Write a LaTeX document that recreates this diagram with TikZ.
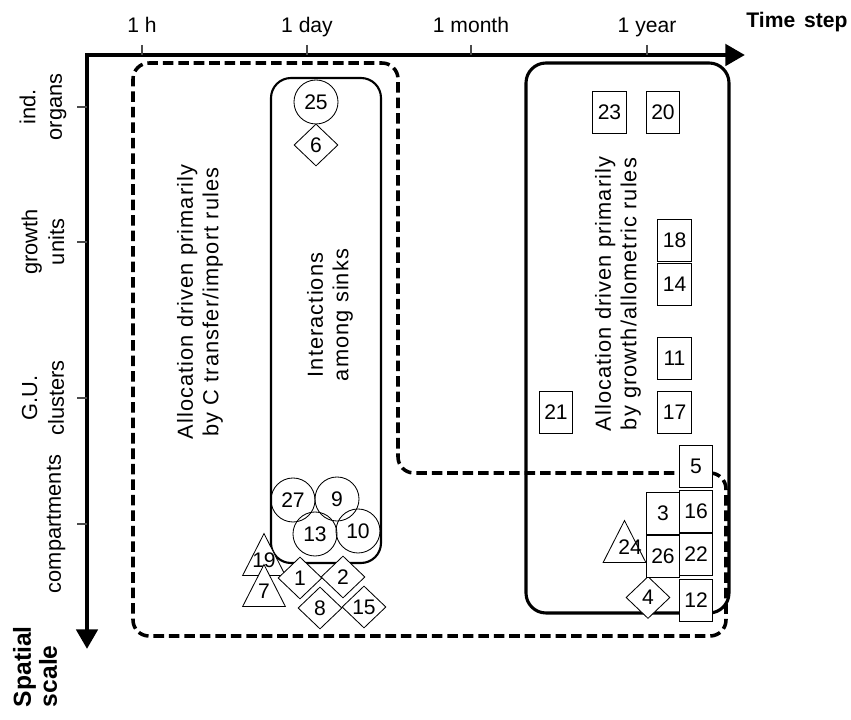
\documentclass[tikz,border=0pt]{standalone}
\usepackage{fontspec}
\setmainfont{Liberation Sans}
\newfontfamily\spacedsans[LetterSpace=5]{Liberation Sans}
\usetikzlibrary{arrows.meta,shapes.geometric,positioning}

\begin{document}
\begin{tikzpicture}[x=0.025cm, y=-0.025cm,
  axis/.style={line width=3.3pt, line join=miter,
               {Triangle[length=14pt,width=15pt]}-{Triangle[length=14pt,width=15pt]}},
  tickmark/.style={line width=0.9pt, black!70},
  ticklab/.style={anchor=base, font=\fontsize{15}{18}\selectfont},
  scalelab/.style={rotate=90, align=center, font=\fontsize{15.5}{19}\selectfont},
  axistitle/.style={font=\fontsize{#1}{18.5}\selectfont\bfseries},
  regionlab/.style={rotate=90, align=center, font=\spacedsans\fontsize{15.5}{18}\selectfont},
  dashreg/.style={line width=2.5pt, dash pattern=on 7.5pt off 3.5pt, rounded corners=0.4cm},
  solidreg/.style={line width=#1, rounded corners=0.5cm},
  numtext/.style={inner sep=0pt, font=\fontsize{15}{17}\selectfont},
  sinkbox/.style={draw, fill=white, rectangle, inner sep=0pt, line width=0.6pt,
                  minimum width=0.83cm, minimum height=1.05cm, numtext},
  sinkcirc/.style={draw, circle, inner sep=0pt, line width=0.6pt,
                   minimum size=1.1cm, numtext},
  sinkdiam/.style={draw, fill=white, diamond, inner sep=0pt, line width=0.6pt,
                   minimum width=1.1cm, minimum height=1.05cm, numtext},
  sinktri/.style={draw, fill=white, isosceles triangle, shape border rotate=90,
                  isosceles triangle stretches, inner sep=0pt, line width=0.6pt,
                  minimum width=1.07cm, minimum height=1.05cm, anchor=lower side}
]
  \useasboundingbox (0,0) rectangle (851,720);

  % axes
  \coordinate (origin) at (87,55);
  \coordinate (timeend) at (745,55);
  \coordinate (scaleend) at (87,649);
  \draw[axis] (timeend) -- (origin) -- (scaleend);

  \foreach \x/\name/\txt in {142/th/1 h, 307/td/1 day, 471/tm/1 month, 647/ty/1 year}{
    \draw[tickmark] (\x,45) -- (\x,55);
    \node[ticklab] (\name) at (\x,33) {\txt};
  }
  \node[axistitle=15] (timestep) at (797,22) {Time\hspace{0.15em} step};

  \foreach \y in {107,242,398,524}
    \draw[tickmark] (77,\y) -- (87,\y);
  \node[scalelab] (organs)   at (43,107) {ind.\\organs};
  \node[scalelab] (units)    at (43,242) {growth\\units};
  \node[scalelab] (clusters) at (43,398) {G.U.\\clusters};
  \node[scalelab] (compart)  at (56,524) {compartments};
  \node[scalelab, axistitle=17.5, align=left, anchor=west] (spatial) at (35,712) {Spatial\\scale};

  % regions
  \draw[dashreg] (133,350) -- (133,63) -- (398,63) -- (398,473) -- (726,473)
    -- (726,636) -- (133,636) -- cycle;
  \draw[solidreg=1.5pt] (271,78) rectangle (381,563);
  \draw[solidreg=2.2pt] (526,63) rectangle (729,613);

  \node[regionlab] (importlab) at (200,302) {Allocation driven primarily\\by C transfer/import rules};
  \node[regionlab] (sinklab)   at (330,315) {Interactions\\among sinks};
  \node[regionlab] (allomlab)  at (618,294) {Allocation driven primarily\\by growth/allometric rules};

  % sinks
  \foreach \n/\x/\y in {25/316/102, 27/293/500, 9/337/499, 13/315/534, 10/358/531}
    \node[sinkcirc] (c\n) at (\x,\y) {\n};

  \foreach \n/\x/\y/\dx in {19/264/576/0, 7/264/607/0, 24/624.5/563/4pt}{
    \node[sinktri] (t\n) at (\x,\y) {};
    \node[numtext] (n\n) at ([xshift=\dx, yshift=11pt]t\n.lower side) {\n};
  }

  \foreach \n/\x/\y in {6/316/145, 1/300/578, 2/343/577, 8/320/608, 15/364/607, 4/648/597.5}
    \node[sinkdiam] (d\n) at (\x,\y) {\n};

  \foreach \n/\x/\y in {23/609.5/112, 20/663/112, 18/674.5/240.5, 14/674.5/284.5,
                        11/674.5/358.5, 17/674.5/412.5, 21/556/412.5,
                        5/696/466, 16/696/511.5, 22/696/554.5, 12/696/600,
                        3/663/513.5, 26/663/556.5}
    \node[sinkbox] (b\n) at (\x,\y) {\n};
\end{tikzpicture}
\end{document}
